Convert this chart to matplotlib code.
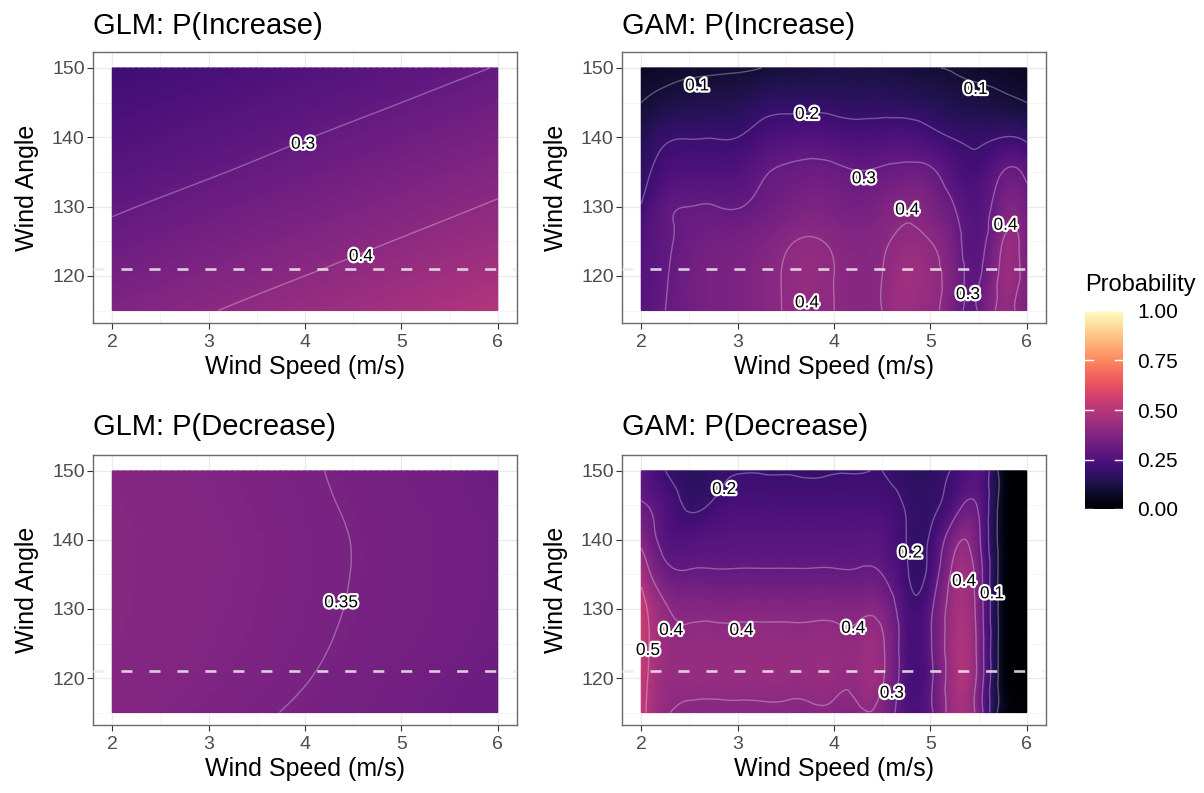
import numpy as np
import matplotlib
matplotlib.use("Agg")
import matplotlib.pyplot as plt
import matplotlib.tri as mtri
import matplotlib.patheffects as pe
from matplotlib.ticker import MultipleLocator
from matplotlib.colors import Normalize
from matplotlib.cm import ScalarMappable

plt.rcParams['font.family'] = ['Liberation Sans', 'DejaVu Sans']

# ---------------- data ----------------
angle_grid = [115, 120, 125, 130, 135, 140, 145, 150]
speed_glm = [2, 3, 4, 5, 6]
speed_gam = [2.0, 2.25, 2.5, 2.75, 3.0, 3.25, 3.5, 3.75, 4.0,
             4.25, 4.5, 4.75, 5.0, 5.25, 5.5, 5.75, 6.0]

# rows follow angle_grid (bottom -> top), columns follow the speed grid
glm_increase = [
    [0.368, 0.397, 0.428, 0.459, 0.490],
    [0.342, 0.371, 0.400, 0.431, 0.462],
    [0.317, 0.345, 0.373, 0.403, 0.433],
    [0.293, 0.320, 0.347, 0.376, 0.406],
    [0.270, 0.295, 0.322, 0.350, 0.379],
    [0.248, 0.272, 0.298, 0.325, 0.353],
    [0.228, 0.250, 0.274, 0.300, 0.327],
    [0.208, 0.230, 0.253, 0.277, 0.302],
]

glm_decrease = [
    [0.376, 0.361, 0.346, 0.331, 0.316],
    [0.381, 0.366, 0.351, 0.335, 0.320],
    [0.384, 0.369, 0.354, 0.339, 0.324],
    [0.386, 0.371, 0.356, 0.341, 0.326],
    [0.387, 0.372, 0.357, 0.342, 0.327],
    [0.387, 0.372, 0.357, 0.342, 0.327],
    [0.385, 0.370, 0.355, 0.340, 0.325],
    [0.383, 0.368, 0.353, 0.338, 0.322],
]

gam_increase = [
    [0.265, 0.300, 0.330, 0.350, 0.360, 0.380, 0.405, 0.420, 0.400, 0.385, 0.400, 0.440, 0.415, 0.340, 0.305, 0.420, 0.360],
    [0.260, 0.295, 0.330, 0.350, 0.360, 0.380, 0.405, 0.420, 0.400, 0.385, 0.400, 0.445, 0.420, 0.350, 0.290, 0.420, 0.360],
    [0.250, 0.290, 0.320, 0.335, 0.345, 0.360, 0.390, 0.405, 0.390, 0.375, 0.390, 0.415, 0.400, 0.335, 0.270, 0.400, 0.350],
    [0.205, 0.285, 0.300, 0.302, 0.297, 0.320, 0.340, 0.360, 0.350, 0.340, 0.360, 0.385, 0.360, 0.300, 0.260, 0.350, 0.330],
    [0.170, 0.233, 0.247, 0.247, 0.255, 0.290, 0.310, 0.320, 0.315, 0.302, 0.310, 0.322, 0.312, 0.252, 0.230, 0.300, 0.280],
    [0.137, 0.190, 0.197, 0.198, 0.200, 0.232, 0.249, 0.258, 0.247, 0.236, 0.242, 0.245, 0.223, 0.196, 0.185, 0.200, 0.185],
    [0.100, 0.123, 0.135, 0.140, 0.146, 0.170, 0.178, 0.180, 0.175, 0.170, 0.172, 0.165, 0.155, 0.135, 0.125, 0.115, 0.100],
    [0.066, 0.080, 0.087, 0.090, 0.093, 0.100, 0.110, 0.118, 0.122, 0.122, 0.118, 0.110, 0.102, 0.095, 0.085, 0.078, 0.065],
]

gam_decrease = [
    [0.530, 0.410, 0.385, 0.385, 0.385, 0.385, 0.385, 0.385, 0.385, 0.385, 0.370, 0.250, 0.280, 0.450, 0.360, 0.050, 0.005],
    [0.540, 0.430, 0.420, 0.420, 0.420, 0.420, 0.420, 0.420, 0.420, 0.420, 0.410, 0.250, 0.280, 0.460, 0.370, 0.050, 0.005],
    [0.550, 0.430, 0.418, 0.418, 0.418, 0.418, 0.418, 0.418, 0.418, 0.418, 0.410, 0.250, 0.290, 0.460, 0.370, 0.050, 0.005],
    [0.540, 0.410, 0.380, 0.380, 0.380, 0.380, 0.380, 0.380, 0.380, 0.380, 0.370, 0.240, 0.280, 0.450, 0.360, 0.050, 0.005],
    [0.470, 0.330, 0.310, 0.310, 0.310, 0.310, 0.310, 0.310, 0.310, 0.310, 0.300, 0.210, 0.230, 0.430, 0.350, 0.050, 0.005],
    [0.380, 0.270, 0.255, 0.265, 0.270, 0.270, 0.270, 0.270, 0.270, 0.270, 0.265, 0.200, 0.210, 0.370, 0.320, 0.050, 0.005],
    [0.310, 0.250, 0.190, 0.210, 0.234, 0.234, 0.234, 0.234, 0.234, 0.234, 0.230, 0.195, 0.185, 0.260, 0.290, 0.050, 0.005],
    [0.290, 0.200, 0.160, 0.185, 0.197, 0.197, 0.197, 0.190, 0.197, 0.197, 0.200, 0.170, 0.170, 0.210, 0.270, 0.050, 0.005],
]

titles = ["GLM: P(Increase)", "GAM: P(Increase)", "GLM: P(Decrease)", "GAM: P(Decrease)"]
contour_levels = [[0.3, 0.4], [0.1, 0.2, 0.3, 0.4, 0.5], [0.35], [0.1, 0.2, 0.3, 0.4, 0.5]]
contour_labels = [
    [(3.98, 139.0, "0.3"), (4.58, 122.8, "0.4")],
    [(2.58, 147.4, "0.1"), (5.47, 146.9, "0.1"), (3.72, 143.3, "0.2"),
     (4.31, 134.0, "0.3"), (4.76, 129.5, "0.4"), (5.78, 127.3, "0.4"),
     (5.39, 117.3, "0.3"), (3.72, 116.1, "0.4")],
    [(4.375, 130.9, "0.35")],
    [(2.86, 147.3, "0.2"), (4.79, 138.1, "0.2"), (5.35, 134.0, "0.4"),
     (5.64, 132.2, "0.1"), (2.07, 124.0, "0.5"), (2.31, 126.9, "0.4"),
     (3.04, 126.9, "0.4"), (4.20, 127.2, "0.4"), (4.60, 117.8, "0.3")],
]
reference_angle = 121
x_ticks = [2, 3, 4, 5, 6]
y_ticks = [120, 130, 140, 150]
cbar_ticks = [0.0, 0.25, 0.50, 0.75, 1.0]
cbar_ticklabels = ["0.00", "0.25", "0.50", "0.75", "1.00"]

# ---------------- figure ----------------
W, H = 1204, 793
fig = plt.figure(figsize=(W / 100, H / 100), dpi=100)


def px_rect(left, top, width, height):
    return [left / W, 1 - (top + height) / H, width / W, height / H]


panel_rects = [px_rect(93, 52, 424, 271), px_rect(622, 52, 424, 271),
               px_rect(93, 455, 424, 270), px_rect(622, 455, 424, 270)]
title_base = [34, 34, 435, 435]

speeds_list = [speed_glm, speed_gam, speed_glm, speed_gam]
values_list = [glm_increase, gam_increase, glm_decrease, gam_decrease]


def grid_triangulation(xs, ys):
    X, Y = np.meshgrid(np.asarray(xs, float), np.asarray(ys, float))
    ny, nx = X.shape
    idx = np.arange(ny * nx).reshape(ny, nx)
    a = idx[:-1, :-1].ravel()
    b = idx[:-1, 1:].ravel()
    c = idx[1:, 1:].ravel()
    d = idx[1:, :-1].ravel()
    tris = np.concatenate([np.stack([a, b, c], 1), np.stack([a, c, d], 1)])
    return mtri.Triangulation(X.ravel(), Y.ravel(), tris)


for k in range(4):
    ax = fig.add_axes(panel_rects[k])
    tri = grid_triangulation(speeds_list[k], angle_grid)
    z = np.asarray(values_list[k], float).ravel()
    refiner = mtri.UniformTriRefiner(tri)
    tri_f, z_f = refiner.refine_field(z, subdiv=4)
    ax.tripcolor(tri_f, z_f, shading='gouraud', cmap='magma', vmin=0, vmax=1,
                 zorder=1, rasterized=True)
    ax.tricontour(tri_f, z_f, levels=contour_levels[k], colors='white',
                  alpha=0.3, linewidths=1.0, zorder=2)
    ax.axhline(reference_angle, color='#ececec', alpha=0.85, lw=1.9,
               dashes=(4.2, 6.4), dash_capstyle='butt', zorder=3)
    for (lx, ly, lt) in contour_labels[k]:
        ax.text(lx, ly, lt, ha='center', va='center', fontsize=12.5,
                color='black', zorder=5,
                path_effects=[pe.withStroke(linewidth=3.2, foreground='white')])

    ax.set_xlim(1.8, 6.2)
    ax.set_ylim(113.2, 152.3)
    ax.set_xticks(x_ticks)
    ax.set_yticks(y_ticks)
    ax.xaxis.set_minor_locator(MultipleLocator(0.5))
    ax.yaxis.set_minor_locator(MultipleLocator(5))
    ax.set_axisbelow(True)
    ax.grid(which='major', color='#ebebeb', lw=1.0, zorder=0)
    ax.grid(which='minor', color='#f3f3f3', lw=0.6, zorder=0)
    ax.tick_params(which='major', direction='out', length=4, width=0.8,
                   color='#333333', labelsize=14, labelcolor='#4d4d4d')
    ax.tick_params(axis='x', pad=4)
    ax.tick_params(axis='y', pad=2)
    ax.tick_params(which='minor', length=0)
    for s in ax.spines.values():
        s.set_color('#6a6a6a')
        s.set_linewidth(1.0)
    ax.set_xlabel("Wind Speed (m/s)", fontsize=18, labelpad=3)
    ax.set_ylabel("Wind Angle", fontsize=18, labelpad=9)
    rect = panel_rects[k]
    fig.text(rect[0], 1 - title_base[k] / H, titles[k], fontsize=21,
             ha='left', va='baseline')

# ---------------- colorbar ----------------
cax = fig.add_axes(px_rect(1085, 311, 38, 198))
sm = ScalarMappable(norm=Normalize(0, 1), cmap='magma')
cb = fig.colorbar(sm, cax=cax, ticks=cbar_ticks)
cb.outline.set_visible(False)
cb.ax.set_yticklabels(cbar_ticklabels)
cb.ax.tick_params(length=0, pad=10, labelsize=15, labelcolor='black')
for t in cbar_ticks:
    cax.plot([0, 0.2], [t, t], color='white', lw=1, transform=cax.get_yaxis_transform(), zorder=5)
    cax.plot([0.8, 1.0], [t, t], color='white', lw=1, transform=cax.get_yaxis_transform(), zorder=5)
fig.text(1085 / W, 1 - 285 / H, "Probability", fontsize=17, ha='left', va='center')

fig.savefig("out.png", dpi=100)
